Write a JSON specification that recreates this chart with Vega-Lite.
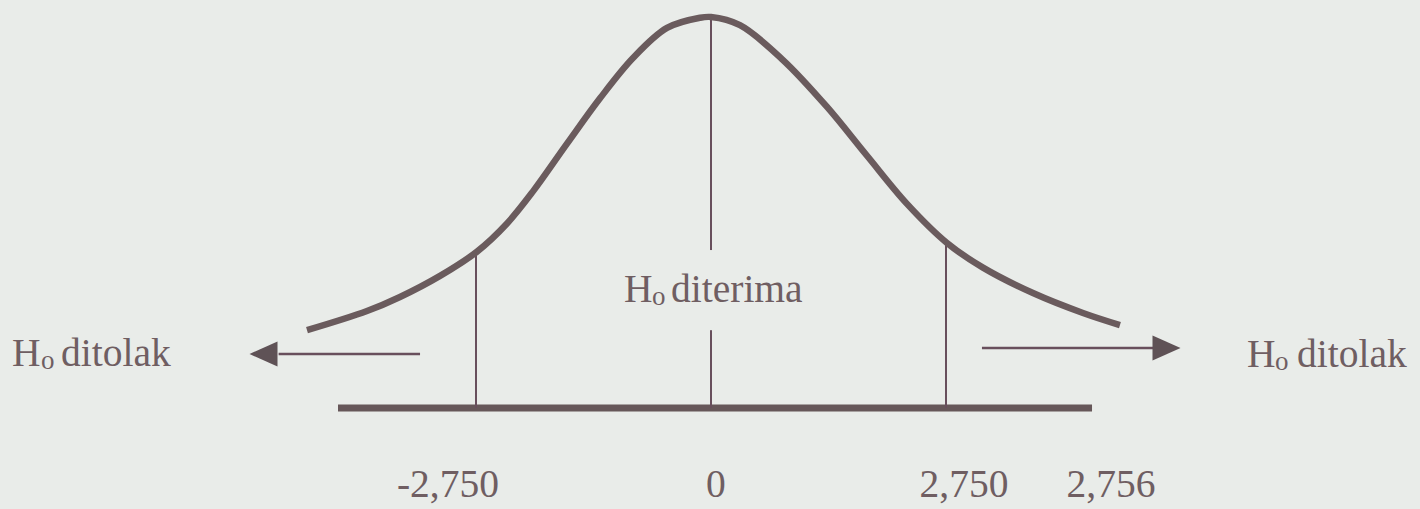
{
  "$schema": "https://vega.github.io/schema/vega-lite/v6.json",
  "width": 1420,
  "height": 509,
  "autosize": {"type": "fit", "contains": "padding"},
  "padding": 0,
  "background": "#e9ece9",
  "config": {
    "view": {"stroke": null},
    "text": {"font": "Liberation Serif", "color": "#6f5e62"}
  },
  "datasets": {
    "kurva": [
      {"z": -4.728, "h": 0.199},
      {"z": -4.026, "h": 0.248},
      {"z": -3.640, "h": 0.284},
      {"z": -3.171, "h": 0.338},
      {"z": -2.738, "h": 0.400},
      {"z": -2.387, "h": 0.472},
      {"z": -2.083, "h": 0.554},
      {"z": -1.685, "h": 0.676},
      {"z": -1.299, "h": 0.792},
      {"z": -0.913, "h": 0.895},
      {"z": -0.515, "h": 0.972},
      {"z": -0.129, "h": 0.998},
      {"z": 0.0, "h": 1.0},
      {"z": 0.339, "h": 0.979},
      {"z": 0.843, "h": 0.890},
      {"z": 1.358, "h": 0.770},
      {"z": 1.826, "h": 0.645},
      {"z": 2.294, "h": 0.522},
      {"z": 2.762, "h": 0.422},
      {"z": 3.183, "h": 0.359},
      {"z": 3.768, "h": 0.294},
      {"z": 4.353, "h": 0.243},
      {"z": 4.786, "h": 0.212}
    ],
    "sumbu": [{"z": -4.365, "z2": 4.459, "h": 0}],
    "batas": [
      {"z": -2.75, "h": 0, "h2": 0.399},
      {"z": 0, "h": 0.998, "h2": 0.404},
      {"z": 0, "h": 0.199, "h2": 0},
      {"z": 2.75, "h": 0, "h2": 0.423}
    ],
    "panah": [
      {"z": -5.06, "z2": -3.405, "h": 0.1381},
      {"z": 3.171, "z2": 5.196, "h": 0.1535}
    ],
    "kepala": [
      {"z": -5.237, "h": 0.1381, "arah": "kiri"},
      {"z": 5.331, "h": 0.1535, "arah": "kanan"}
    ],
    "teks": [
      {"z": -8.180, "h": 0.1074, "label": "H"},
      {"z": -7.607, "h": 0.1074, "label": "ditolak"},
      {"z": -1.018, "h": 0.2711, "label": "H"},
      {"z": -0.468, "h": 0.2711, "label": "diterima"},
      {"z": 6.273, "h": 0.1049, "label": "H"},
      {"z": 6.858, "h": 0.1049, "label": "ditolak"}
    ],
    "indeks": [
      {"z": -7.841, "h": 0.0997, "label": "o"},
      {"z": -0.690, "h": 0.2634, "label": "o"},
      {"z": 6.600, "h": 0.0972, "label": "o"}
    ],
    "nilai": [
      {"z": -3.078, "h": -0.2276, "label": "-2,750"},
      {"z": 0.0585, "h": -0.2276, "label": "0"},
      {"z": 2.961, "h": -0.2276, "label": "2,750"},
      {"z": 4.681, "h": -0.2276, "label": "2,756"}
    ]
  },
  "encoding": {
    "x": {"field": "z", "type": "quantitative", "scale": {"domain": [-8.3206, 8.2973], "nice": false, "zero": false}, "axis": null},
    "y": {"field": "h", "type": "quantitative", "scale": {"domain": [-0.25831, 1.04348], "nice": false, "zero": false}, "axis": null}
  },
  "layer": [
    {
      "data": {"name": "sumbu"},
      "mark": {"type": "rule", "color": "#665759", "strokeWidth": 7},
      "encoding": {"x2": {"field": "z2"}}
    },
    {
      "data": {"name": "batas"},
      "mark": {"type": "rule", "color": "#684f5c", "strokeWidth": 2},
      "encoding": {"y2": {"field": "h2"}}
    },
    {
      "data": {"name": "kurva"},
      "mark": {"type": "line", "color": "#6a5b5d", "strokeWidth": 6.5, "interpolate": "catmull-rom", "strokeCap": "butt"},
      "encoding": {"order": {"field": "z", "type": "quantitative"}}
    },
    {
      "data": {"name": "panah"},
      "mark": {"type": "rule", "color": "#684f5c", "strokeWidth": 2.5},
      "encoding": {"x2": {"field": "z2"}}
    },
    {
      "data": {"name": "kepala"},
      "mark": {"type": "point", "filled": true, "opacity": 1, "color": "#5f5256", "size": 784, "strokeWidth": 0},
      "encoding": {
        "shape": {
          "field": "arah",
          "type": "nominal",
          "scale": {"domain": ["kiri", "kanan"], "range": ["M-1,0L1,-0.9L1,0.9Z", "M1,0L-1,-0.9L-1,0.9Z"]},
          "legend": null
        }
      }
    },
    {
      "data": {"name": "teks"},
      "mark": {"type": "text", "align": "left", "baseline": "alphabetic", "fontSize": 39.5},
      "encoding": {"text": {"field": "label"}}
    },
    {
      "data": {"name": "indeks"},
      "mark": {"type": "text", "align": "left", "baseline": "alphabetic", "fontSize": 27},
      "encoding": {"text": {"field": "label"}}
    },
    {
      "data": {"name": "nilai"},
      "mark": {"type": "text", "align": "center", "baseline": "alphabetic", "fontSize": 39.5},
      "encoding": {"text": {"field": "label"}}
    }
  ]
}
